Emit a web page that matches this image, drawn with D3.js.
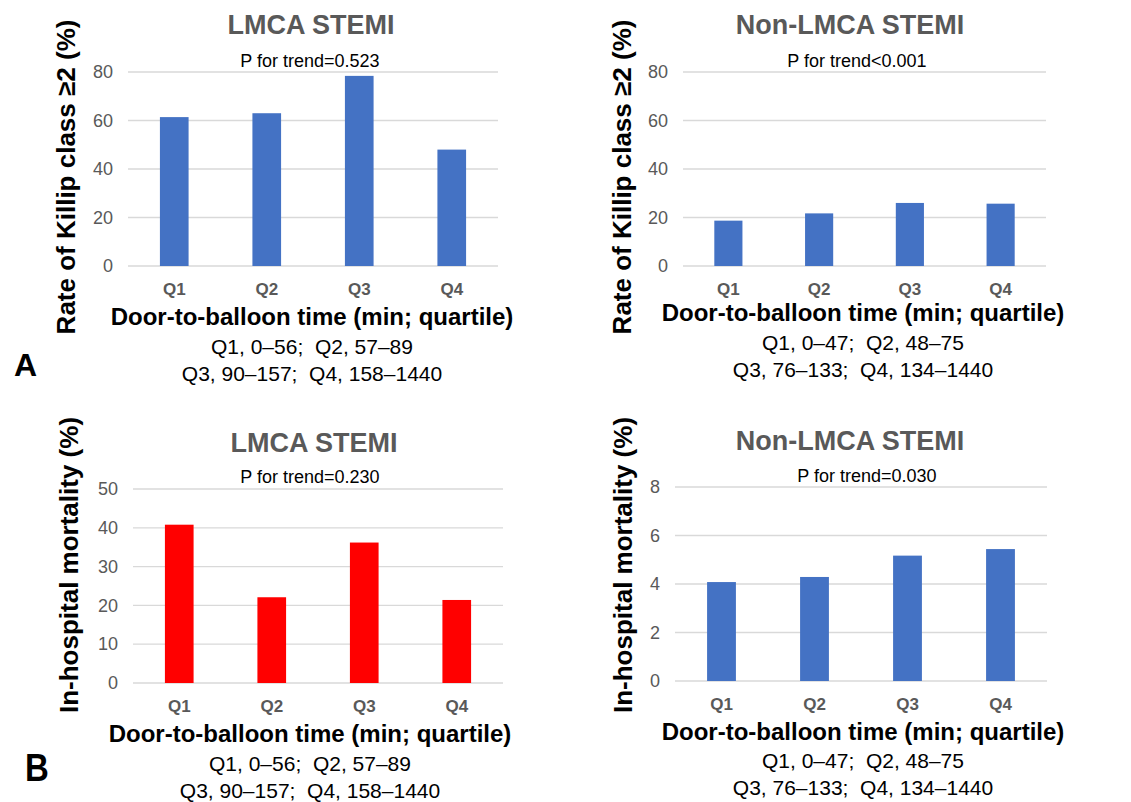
<!DOCTYPE html>
<html>
<head>
<meta charset="utf-8">
<script src="https://cdn.jsdelivr.net/npm/d3@7"></script>
<style>
  body { margin: 0; background: #fff; }
  svg { font-family: "Liberation Sans", Arial, sans-serif; }
</style>
</head>
<body>
<script>
// categories (door-to-balloon quartiles)
const quartiles = ['Q1', 'Q2', 'Q3', 'Q4'];
// rate of Killip class >=2 (%)
const killipLmca = [61.4, 63.0, 78.4, 48.0];
const killipNonLmca = [18.7, 21.7, 26.0, 25.7];
// in-hospital mortality (%)
const mortalityLmca = [40.8, 22.1, 36.2, 21.4];
const mortalityNonLmca = [4.08, 4.29, 5.17, 5.44];
// y tick values
const killipTicks = [0, 20, 40, 60, 80];
const mortalityLmcaTicks = [0, 10, 20, 30, 40, 50];
const mortalityNonLmcaTicks = [0, 2, 4, 6, 8];
// texts
const titles = ['LMCA STEMI', 'Non-LMCA STEMI'];
const pTrend = ['P for trend=0.523', 'P for trend<0.001', 'P for trend=0.230', 'P for trend=0.030'];
const yTitles = ['Rate of Killip class ≥2 (%)', 'In-hospital mortality (%)'];
const xTitle = 'Door-to-balloon time (min; quartile)';
const rangesLmca = ['Q1, 0–56;  Q2, 57–89', 'Q3, 90–157;  Q4, 158–1440'];
const rangesNonLmca = ['Q1, 0–47;  Q2, 48–75', 'Q3, 76–133;  Q4, 134–1440'];

const w = 1131;
const h = 802;

const svg = d3.select('body')
    .append('svg')
    .attr('width', w)
    .attr('height', h);

// one entry per panel, layout in pixels
const panels = [
    { values: killipLmca, ticks: killipTicks, color: '#4472c4', title: titles[0], p: pTrend[0],
      yTitle: yTitles[0], ranges: rangesLmca,
      x0: 128, x1: 498, y0: 72, y1: 266, titleX: 311, titleY: 34, pX: 310, pY: 67,
      yTitleX: 75, yTitleY: 177, xTitleX: 312, xTitleY: 325, rangeY: [354, 381] },
    { values: killipNonLmca, ticks: killipTicks, color: '#4472c4', title: titles[1], p: pTrend[1],
      yTitle: yTitles[0], ranges: rangesNonLmca,
      x0: 683, x1: 1046, y0: 72, y1: 266, titleX: 850, titleY: 34, pX: 857, pY: 67,
      yTitleX: 631, yTitleY: 177, xTitleX: 863, xTitleY: 321, rangeY: [350, 377] },
    { values: mortalityLmca, ticks: mortalityLmcaTicks, color: '#ff0000', title: titles[0], p: pTrend[2],
      yTitle: yTitles[1], ranges: rangesLmca,
      x0: 133, x1: 503, y0: 489, y1: 683, titleX: 314, titleY: 452, pX: 310, pY: 483,
      yTitleX: 78, yTitleY: 565, xTitleX: 310, xTitleY: 742, rangeY: [771, 798] },
    { values: mortalityNonLmca, ticks: mortalityNonLmcaTicks, color: '#4472c4', title: titles[1], p: pTrend[3],
      yTitle: yTitles[1], ranges: rangesNonLmca,
      x0: 675, x1: 1047, y0: 487, y1: 681, titleX: 850, titleY: 450, pX: 867, pY: 482,
      yTitleX: 632, yTitleY: 565, xTitleX: 863, xTitleY: 740, rangeY: [768, 795] }
];

panels.forEach(function (pn) {
    const g = svg.append('g');

    const xScale = d3.scaleBand()
        .domain(quartiles)
        .range([pn.x0, pn.x1])
        .paddingInner(0.69)
        .paddingOuter(0.345);

    const yScale = d3.scaleLinear()
        .domain([0, d3.max(pn.ticks)])
        .range([pn.y1, pn.y0]);

    // gridlines
    g.selectAll('.grid')
        .data(pn.ticks)
        .enter()
        .append('line')
        .attr('x1', pn.x0)
        .attr('x2', pn.x1)
        .attr('y1', d => yScale(d))
        .attr('y2', d => yScale(d))
        .attr('stroke', '#d9d9d9')
        .attr('stroke-width', 1.3);

    // bars
    g.selectAll('rect')
        .data(pn.values)
        .enter()
        .append('rect')
        .attr('x', (d, i) => xScale(quartiles[i]))
        .attr('y', d => yScale(d))
        .attr('width', xScale.bandwidth())
        .attr('height', d => pn.y1 - yScale(d))
        .attr('fill', pn.color);

    // y axis
    const yAxisG = g.append('g')
        .attr('transform', `translate(${pn.x0},0)`)
        .call(d3.axisLeft(yScale).tickValues(pn.ticks).tickSize(0).tickPadding(15));
    yAxisG.select('.domain').remove();
    yAxisG.selectAll('text')
        .attr('fill', '#595959')
        .style('font-size', '18px');

    // x axis
    const xAxisG = g.append('g')
        .attr('transform', `translate(0,${pn.y1})`)
        .call(d3.axisBottom(xScale).tickSize(0).tickPadding(17));
    xAxisG.select('.domain').remove();
    xAxisG.selectAll('text')
        .attr('fill', '#595959')
        .style('font-size', '17px')
        .style('font-weight', 'bold');

    // title
    g.append('text')
        .attr('x', pn.titleX)
        .attr('y', pn.titleY)
        .attr('text-anchor', 'middle')
        .attr('fill', '#595959')
        .style('font-size', '27px')
        .style('font-weight', 'bold')
        .text(pn.title);

    // p for trend
    g.append('text')
        .attr('x', pn.pX)
        .attr('y', pn.pY)
        .attr('text-anchor', 'middle')
        .attr('fill', '#000')
        .style('font-size', '18px')
        .text(pn.p);

    // y title
    g.append('text')
        .attr('transform', `translate(${pn.yTitleX},${pn.yTitleY}) rotate(-90)`)
        .attr('text-anchor', 'middle')
        .attr('fill', '#000')
        .style('font-size', '26px')
        .style('font-weight', 'bold')
        .text(pn.yTitle);

    // x title
    g.append('text')
        .attr('x', pn.xTitleX)
        .attr('y', pn.xTitleY)
        .attr('text-anchor', 'middle')
        .attr('fill', '#000')
        .style('font-size', '24px')
        .style('font-weight', 'bold')
        .text(xTitle);

    // quartile ranges
    g.selectAll('.range')
        .data(pn.ranges)
        .enter()
        .append('text')
        .attr('x', pn.xTitleX)
        .attr('y', (d, i) => pn.rangeY[i])
        .attr('text-anchor', 'middle')
        .attr('fill', '#000')
        .style('font-size', '21px')
        .style('white-space', 'pre')
        .text(d => d);
});

// panel letters
svg.append('text')
    .attr('x', 14)
    .attr('y', 376)
    .style('font-size', '32px')
    .style('font-weight', 'bold')
    .text('A');
svg.append('text')
    .attr('transform', 'translate(25,781) scale(1,1.18)')
    .style('font-size', '33px')
    .style('font-weight', 'bold')
    .text('B');
</script>
</body>
</html>
